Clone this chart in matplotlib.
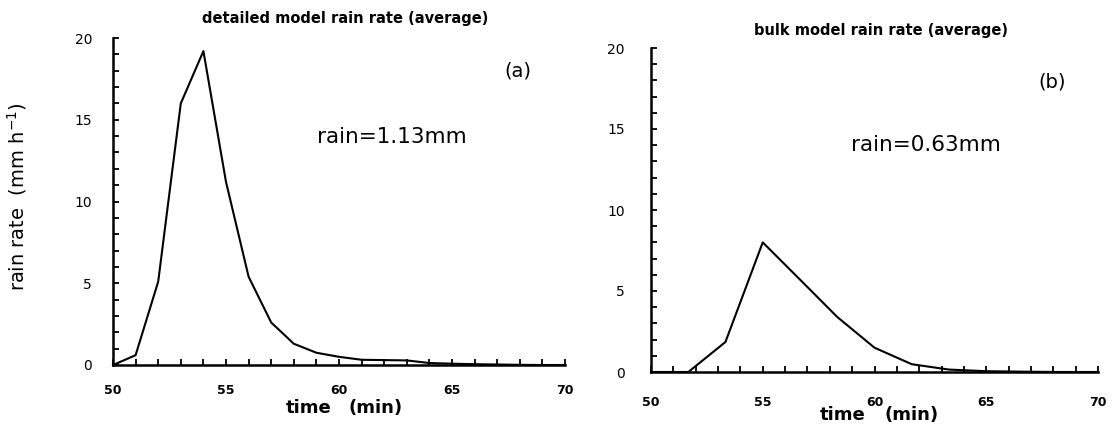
import matplotlib
matplotlib.use('Agg')
import matplotlib.pyplot as plt
from matplotlib.ticker import MultipleLocator

# detailed model, one value per minute
time_a = [50, 51, 52, 53, 54, 55, 56, 57, 58, 59, 60, 61, 62, 63, 64, 65, 66, 67, 68, 69, 70]
rain_a = [0.0, 0.6, 5.1, 16.0, 19.2, 11.2, 5.4, 2.6, 1.3, 0.75, 0.5, 0.32, 0.3, 0.28, 0.12, 0.08, 0.05, 0.03, 0.01, 0.0, 0.0]

# bulk model, output every 100 s
time_b = [50, 51.67, 53.33, 55, 56.67, 58.33, 60, 61.67, 63.33, 65, 66.67, 68.33, 70]
rain_b = [0.0, 0.0, 1.85, 8.0, 5.7, 3.4, 1.5, 0.48, 0.15, 0.05, 0.02, 0.0, 0.0]

W, H = 1112, 428
fig = plt.figure(figsize=(W / 100, H / 100), dpi=100)

def px_axes(x0, x1, ytop, ybot):
    return fig.add_axes([x0 / W, (H - ybot) / H, (x1 - x0) / W, (ybot - ytop) / H])

def px(x, y):
    # pixel position (from top-left) -> figure fraction
    return x / W, 1 - y / H

def style_axes(ax, xpad, ypad):
    ax.set_xlim(50, 70)
    ax.set_ylim(0, 20)
    ax.spines['top'].set_visible(False)
    ax.spines['right'].set_visible(False)
    for s in ['left', 'bottom']:
        ax.spines[s].set_linewidth(1.8)
    ax.xaxis.set_major_locator(MultipleLocator(5))
    ax.xaxis.set_minor_locator(MultipleLocator(1))
    ax.yaxis.set_major_locator(MultipleLocator(5))
    ax.yaxis.set_minor_locator(MultipleLocator(1))
    ax.tick_params(which='both', direction='in', length=4.5, width=1.3)
    ax.tick_params(axis='x', which='major', pad=xpad, labelsize=9)
    ax.tick_params(axis='y', which='major', pad=ypad, labelsize=10)
    for lab in ax.get_xticklabels():
        lab.set_fontweight('bold')

# (a) detailed model
ax1 = px_axes(113, 565, 38, 365)
ax1.plot(time_a, rain_a, color='black', lw=1.5, clip_on=False)
style_axes(ax1, 14, 15)

# (b) bulk model
ax2 = px_axes(651, 1098, 48, 372)
ax2.plot(time_b, rain_b, color='black', lw=1.5, clip_on=False)
style_axes(ax2, 17, 19)

# panel annotations
fig.text(*px(518, 71), '(a)', fontsize=14, ha='center', va='center')
fig.text(*px(317, 137), 'rain=1.13mm', fontsize=15.5, ha='left', va='center')
fig.text(*px(1052, 82), '(b)', fontsize=14, ha='center', va='center')
fig.text(*px(851, 145), 'rain=0.63mm', fontsize=15.5, ha='left', va='center')

# titles
fig.text(*px(345, 18), 'detailed model rain rate (average)', fontsize=10.5, fontweight='bold', ha='center', va='center')
fig.text(*px(881, 30), 'bulk model rain rate (average)', fontsize=10.5, fontweight='bold', ha='center', va='center')

# axis labels, "time" and "(min)" sit either side of the 60 tick label
fig.text(*px(17, 197), 'rain rate  (mm h$^{-1}$)', fontsize=14, rotation=90, ha='center', va='center')
fig.text(*px(331, 408), 'time', fontsize=13, fontweight='bold', ha='right', va='center')
fig.text(*px(349, 408), '(min)', fontsize=13, fontweight='bold', ha='left', va='center')
fig.text(*px(865, 415), 'time', fontsize=13, fontweight='bold', ha='right', va='center')
fig.text(*px(884, 415), '(min)', fontsize=13, fontweight='bold', ha='left', va='center')

fig.savefig('out.png', dpi=100)
